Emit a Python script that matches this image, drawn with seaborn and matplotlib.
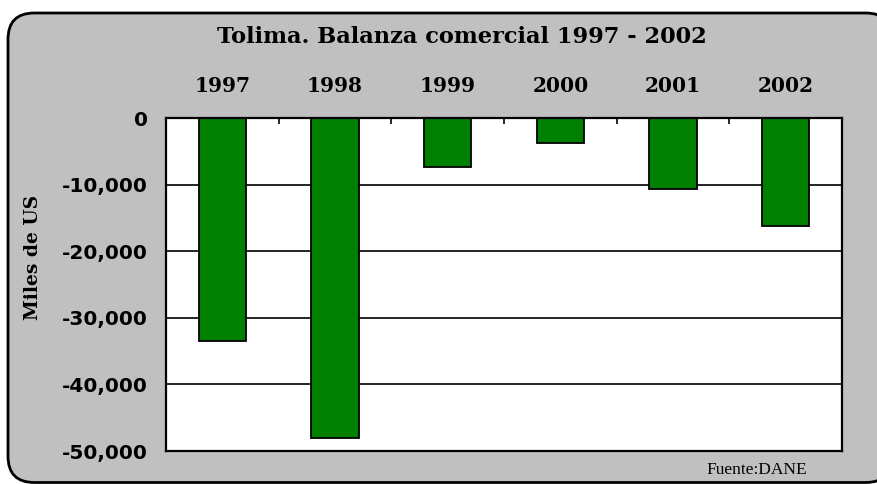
import numpy as np
import pandas as pd
import matplotlib
matplotlib.use("Agg")
import matplotlib.pyplot as plt
import seaborn as sns
from matplotlib.patches import FancyBboxPatch
from matplotlib.ticker import FuncFormatter, FixedLocator

years = ["1997", "1998", "1999", "2000", "2001", "2002"]
balanza = [-33500, -48100, -7400, -3800, -10600, -16200]

data = pd.DataFrame({"Año": years, "Balanza": balanza})

sns.set_style("white")
plt.rcParams["font.family"] = ["DejaVu Sans"]
plt.rcParams["text.color"] = "black"
plt.rcParams["axes.labelcolor"] = "black"

fig = plt.figure(figsize=(8.78, 4.84), dpi=100)
fig.patch.set_facecolor("white")

# rounded grey frame behind everything (runs off the right edge)
frame = FancyBboxPatch((8 / 878, 1.5 / 484), 884 / 878, 469.5 / 484,
                       boxstyle="round,pad=0,rounding_size=0.03",
                       transform=fig.transFigure, facecolor="#c0c0c0",
                       edgecolor="black", linewidth=2,
                       mutation_aspect=878 / 484, zorder=-10)
fig.patches.append(frame)

ax = fig.add_axes([166 / 878, 1 - 451 / 484, 676 / 878, 333 / 484])
ax.set_facecolor("white")

sns.barplot(data=data, x="Año", y="Balanza", color="#008000", saturation=1,
            edgecolor="black", linewidth=1.3, width=0.42, ax=ax)

ax.set_ylim(-50000, 0)
ax.set_xlim(-0.5, 5.5)
ax.set_yticks(np.arange(-50000, 1, 10000))
ax.yaxis.set_major_formatter(FuncFormatter(lambda v, p: f"{int(v):,}"))
ax.grid(axis="y", color="black", linewidth=1.2)
ax.set_axisbelow(True)

ax.xaxis.tick_top()
ax.xaxis.set_minor_locator(FixedLocator([0.5, 1.5, 2.5, 3.5, 4.5]))
ax.tick_params(axis="x", which="both", direction="in", length=4, width=1.2,
               pad=16, colors="black", labelsize=14.5)
ax.tick_params(axis="y", direction="out", length=5, width=1.2, pad=8,
               labelsize=14.5, colors="black")
for lab in ax.get_xticklabels():
    lab.set_fontfamily("DejaVu Serif")
    lab.set_fontweight("bold")
for lab in ax.get_yticklabels():
    lab.set_fontweight("bold")

for s in ax.spines.values():
    s.set_visible(True)
    s.set_color("black")
    s.set_linewidth(1.6)

ax.set_xlabel("")
ax.set_ylabel("Miles de US", family="DejaVu Serif", fontweight="bold",
              fontsize=13.5)
ax.yaxis.set_label_coords(-0.184, 0.58)

fig.text(462 / 878, 1 - 37 / 484, "Tolima. Balanza comercial 1997 - 2002",
         ha="center", va="center", family="DejaVu Serif", fontweight="bold",
         fontsize=16.2)
fig.text(807 / 878, 1 - 470 / 484, "Fuente:DANE", ha="right", va="center",
         family="Liberation Serif", fontsize=12.5)

fig.savefig("out.png", dpi=100)
